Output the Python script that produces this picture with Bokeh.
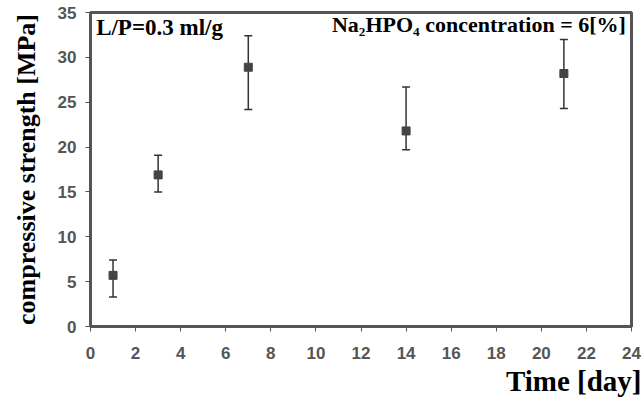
from bokeh.plotting import figure
from bokeh.models import ColumnDataSource, Whisker, Title, Label, FixedTicker, Range1d
from bokeh.embed import file_html
from bokeh.resources import INLINE

days = [1, 3, 7, 14, 21]
strength = [5.7, 16.9, 28.9, 21.8, 28.2]
err_upper = [7.4, 19.1, 32.4, 26.7, 32.0]
err_lower = [3.3, 15.0, 24.2, 19.7, 24.3]
x_ticks = list(range(0, 25, 2))
y_ticks = list(range(0, 36, 5))

src = ColumnDataSource(dict(x=days, y=strength, upper=err_upper, lower=err_lower))

p = figure(width=644, height=401, output_backend="svg", toolbar_location=None,
           x_range=Range1d(0, 24), y_range=Range1d(0, 35),
           min_border_left=90, min_border_right=13, min_border_top=12, min_border_bottom=75)
p.background_fill_color = "white"
p.border_fill_color = "white"
p.grid.visible = False
p.outline_line_color = "#555555"
p.outline_line_width = 3

w = Whisker(base="x", upper="upper", lower="lower", source=src,
            line_color="#333333", line_width=1.5)
w.upper_head.size = 8
w.lower_head.size = 8
w.upper_head.line_color = "#333333"
w.lower_head.line_color = "#333333"
w.upper_head.line_width = 1.5
w.lower_head.line_width = 1.5
p.add_layout(w)
p.scatter("x", "y", source=src, marker="square", size=8, fill_color="#444444", line_color="#444444")

for ax in (p.xaxis[0], p.yaxis[0]):
    ax.axis_line_color = "#555555"
    ax.axis_line_width = 3
    ax.major_tick_line_color = "#555555"
    ax.major_tick_in = 0
    ax.major_tick_out = 5
    ax.minor_tick_line_color = None
    ax.major_label_text_font = "Liberation Sans"
    ax.major_label_text_font_style = "bold"
    ax.major_label_text_color = "#555555"
    ax.major_label_text_font_size = "17px"

p.xaxis.ticker = FixedTicker(ticks=x_ticks)
p.yaxis.ticker = FixedTicker(ticks=y_ticks)
p.xaxis.major_label_standoff = 15
p.yaxis.major_label_standoff = 9

p.yaxis.axis_label = "compressive strength [MPa]"
p.yaxis.axis_label_text_font = "Liberation Serif"
p.yaxis.axis_label_text_font_style = "bold"
p.yaxis.axis_label_text_font_size = "26px"
p.yaxis.axis_label_text_color = "black"
p.yaxis.axis_label_standoff = 14

p.add_layout(Title(text="Time [day]", align="right", text_font="Liberation Serif",
                   text_font_style="bold", text_font_size="29px", text_color="black",
                   standoff=2, offset=-10), "below")

p.add_layout(Label(x=0.25, y=33.3, text="L/P=0.3 ml/g",
                   text_font="Liberation Serif", text_font_style="bold",
                   text_font_size="23px", text_color="black", text_baseline="middle"))
p.add_layout(Label(x=23.75, y=33.66,
                   text="Na\u2082HPO\u2084 concentration = 6[%]",
                   text_font="Liberation Serif", text_font_style="bold",
                   text_font_size="22px", text_color="black", text_align="right",
                   text_baseline="middle"))

open("out.html", "w").write(file_html(p, INLINE))
